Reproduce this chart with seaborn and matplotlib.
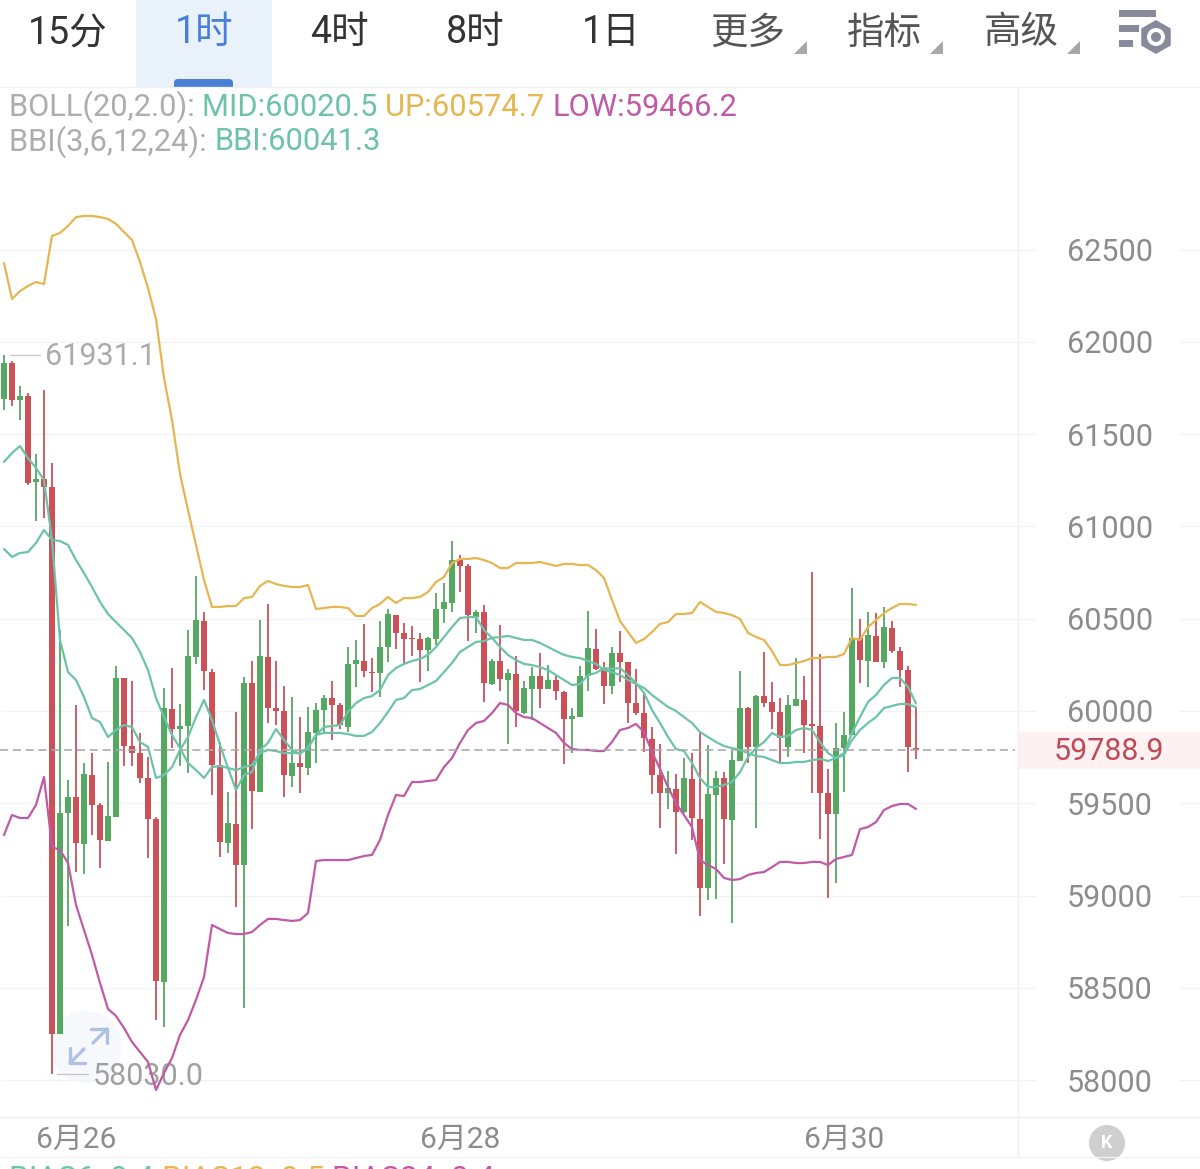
import numpy as np
import pandas as pd
import seaborn as sns
import matplotlib
matplotlib.use("Agg")
import matplotlib.pyplot as plt
from matplotlib.patches import Rectangle, Circle, Polygon, RegularPolygon, FancyBboxPatch

# ---- data (prices) ----
opens = [61691,61886,61686,61707,61241,61257,61214,58249,59447,59534,59279,59653,59491,59295,59425,60179,59810,59772,59637,59415,
58531,60011,59902,59919,60293,60488,60211,59707,59285,59388,59165,60152,59561,60293,60016,60000,59648,59718,59691,59881,
60005,60070,60033,59913,60255,60271,60211,60206,60347,60520,60423,60396,60390,60331,60390,60553,60585,60818,60786,60509,
60537,60146,60271,60168,60201,59989,60119,60190,60119,60168,60103,59957,59967,60190,60336,60233,60136,60314,60266,60043,
59989,59848,59653,59556,59577,59453,59631,59415,59041,59545,59637,59409,59729,60016,59805,60081,60049,59995,59805,60027,
60060,59930,59919,59556,59442,59799,59870,60396,60271,60407,60266,60450,60325,60222,59799]
closes = [61886,61686,61707,61236,61257,61214,58249,59447,59534,59285,59659,59491,59301,59431,60179,59810,59772,59637,59415,58537,
60016,59902,59919,60298,60493,60217,59707,59290,59393,59165,60152,59566,60298,60016,60000,59653,59718,59696,59886,60005,
60070,60033,59924,60255,60276,60217,60206,60347,60526,60423,60390,60390,60331,60396,60553,60591,60818,60786,60520,60537,
60152,60271,60173,60206,60000,60125,60190,60119,60168,60108,59957,59973,60190,60341,60228,60136,60314,60266,60043,59989,
59854,59653,59556,59583,59453,59637,59420,59041,59550,59637,59415,59734,60016,59805,60081,60043,59995,59854,60033,60065,
59924,59919,59556,59442,59799,59870,60396,60276,60412,60266,60455,60325,60222,59805,59789]
highs = [61931,61897,61762,61724,61393,61740,61344,60439,59626,60033,59718,59772,59501,59724,60244,60179,60163,59881,59751,59425,
60125,60233,60038,60439,60732,60537,60228,59832,59561,59995,60184,60271,60493,60580,60271,60136,60076,59967,60022,60043,
60087,60163,60043,60347,60385,60472,60287,60488,60553,60520,60477,60461,60423,60401,60640,60694,60921,60846,60797,60547,
60575,60282,60466,60228,60298,60163,60238,60314,60249,60190,60108,60016,60244,60542,60444,60266,60347,60434,60266,60228,
60103,59913,59821,59675,59659,59745,59772,59881,59816,59675,59669,59783,60217,60022,60087,60320,60157,60070,60087,60287,
60190,60753,60309,59686,59935,59995,60667,60499,60537,60531,60564,60488,60347,60244,60016]
lows = [61631,61653,61577,61225,61030,61046,58030,58249,58835,59127,59117,59328,59149,59295,59425,59702,59702,59610,59203,58325,
58287,59799,59702,59664,60255,60114,59545,59209,59230,58938,58390,59360,59561,59935,59924,59534,59588,59556,59653,59718,
59881,59843,59902,59886,60130,60184,60103,60076,60266,60336,60260,60298,60157,60217,60358,60477,60537,60645,60379,60423,
60049,60141,60108,59821,59913,59984,59951,60016,60119,60060,59713,59772,59967,60108,60222,60038,60092,60157,59935,59978,
59778,59550,59366,59469,59225,59447,59301,58889,58976,58981,59171,58851,59729,59718,59366,60022,59902,59718,59751,60027,
59772,59556,59306,58986,59068,59561,59870,60152,60130,60266,60233,60314,60130,59669,59740]
boll_up = [62428,62233,62276,62304,62325,62314,62575,62591,62629,62677,62683,62683,62677,62667,62640,62596,62553,62434,62293,62125,
61805,61577,61285,61089,60900,60710,60564,60564,60569,60569,60612,60618,60678,60705,60688,60678,60672,60672,60683,60553,
60558,60564,60564,60558,60515,60515,60558,60580,60618,60585,60612,60612,60618,60645,60699,60726,60802,60824,60824,60829,
60818,60802,60775,60775,60802,60802,60802,60808,60797,60786,60797,60797,60791,60791,60764,60721,60602,60488,60428,60369,
60390,60428,60472,60482,60526,60526,60531,60591,60564,60537,60531,60520,60499,60423,60401,60385,60325,60249,60249,60260,
60271,60287,60287,60293,60293,60309,60396,60385,60455,60493,60531,60558,60580,60580,60575]
boll_low = [59328,59436,59420,59420,59491,59642,59263,59247,59176,58949,58813,58678,58526,58385,58347,58282,58206,58152,58098,57946,
58038,58119,58244,58325,58434,58558,58840,58818,58797,58791,58791,58802,58840,58873,58873,58867,58862,58867,58905,59187,
59192,59192,59192,59192,59203,59214,59220,59301,59436,59545,59539,59615,59615,59621,59626,59696,59745,59827,59897,59935,
59946,59989,60043,60033,59989,59967,59962,59935,59908,59881,59827,59794,59789,59789,59783,59783,59832,59897,59908,59930,
59886,59778,59686,59588,59501,59436,59371,59192,59165,59144,59095,59084,59089,59111,59122,59127,59154,59182,59182,59176,
59176,59182,59182,59165,59198,59209,59220,59360,59371,59398,59463,59485,59496,59496,59469]
boll_mid = [60878,60835,60856,60862,60911,60981,60927,60921,60900,60818,60748,60672,60591,60526,60482,60439,60396,60320,60222,60070,
59967,59870,59799,59718,59680,59637,59696,59702,59691,59680,59696,59707,59772,59789,59783,59772,59772,59772,59799,59870,
59881,59881,59881,59875,59865,59865,59886,59935,59995,60060,60070,60114,60119,60141,60163,60211,60260,60320,60347,60374,
60379,60396,60401,60407,60396,60385,60385,60369,60347,60325,60304,60293,60287,60271,60255,60222,60211,60195,60168,60146,
60125,60087,60054,60022,60000,59967,59935,59886,59859,59832,59810,59799,59789,59772,59756,59751,59734,59718,59718,59724,
59724,59734,59740,59729,59745,59761,59843,59897,59935,59967,60016,60027,60038,60038,60020]
bbi = [61350,61398,61436,61371,61317,61252,60927,60385,60211,60168,60076,59962,59940,59859,59897,59924,59913,59832,59805,59637,
59653,59696,59789,59859,59967,60060,59951,59816,59691,59572,59653,59669,59789,59827,59902,59843,59789,59767,59805,59870,
59913,59919,59924,59995,60043,60070,60081,60114,60195,60233,60255,60271,60282,60304,60347,60401,60455,60504,60509,60509,
60439,60396,60347,60304,60276,60255,60249,60238,60222,60195,60168,60141,60146,60195,60206,60233,60228,60233,60195,60152,
60098,60005,59935,59859,59794,59783,59718,59637,59588,59588,59599,59615,59669,59751,59799,59832,59881,59859,59865,59897,
59908,59897,59832,59772,59745,59772,59881,59967,60049,60087,60141,60179,60179,60130,60041]
y_ticks = [58000,58500,59000,59500,60000,60500,61000,61500,62000,62500]
x_tick_idx = [9,57,105]
x_tick_labels = ["6月26","6月28","6月30"]
last_price = 59788.9
tab_labels = ["15分","1时","4时","8时","1日","更多","指标","高级"]

GREEN, RED = "#55a860", "#cc5058"
TEAL, GOLD, PINK = "#6cc3aa", "#e6b650", "#c15aa6"
GREY = "#8c8c8c"
W, H = 1200, 1169

sns.set_theme(style="white")
plt.rcParams["font.family"] = ["Roboto", "Noto Sans CJK SC", "DejaVu Sans"]

fig = plt.figure(figsize=(W/100, H/100), dpi=100, facecolor="white")

# pixel-space layer for the app chrome
ui = fig.add_axes([0, 0, 1, 1], zorder=0)
ui.set_xlim(0, W); ui.set_ylim(H, 0); ui.axis("off")

ui.add_patch(Rectangle((136, 0), 136, 87, color="#e9f1fb", lw=0))
ui.add_patch(FancyBboxPatch((178, 83), 51, 8, boxstyle="round,pad=4", color="#4a7fd6", lw=0, clip_on=True))
ui.add_patch(Rectangle((170, 87), 70, 10, color="white", lw=0))
tab_x = [68, 204, 339, 475, 611, 748, 884, 1021]
tab_col = ["#333333", "#4a7fd6", "#333333", "#333333", "#333333", "#555555", "#555555", "#555555"]
for lab, x, c in zip(tab_labels, tab_x, tab_col):
    ui.text(x, 33, lab, ha="center", va="center", fontsize=27, color=c)
for x in (807, 943, 1080):
    ui.add_patch(Polygon([(x-13, 54), (x, 54), (x, 41)], color="#a8a8a8", lw=0))
# settings icon
for (x0, w, y0, h) in [(1119, 37, 10, 7), (1119, 20, 25, 7), (1119, 14, 40, 7)]:
    ui.add_patch(Rectangle((x0, y0), w, h, color="#868a9b", lw=0))
ui.add_patch(RegularPolygon((1156, 37), 6, radius=17, color="#868a9b", lw=0))
ui.add_patch(Circle((1156, 37), 9, color="white", lw=0))
ui.add_patch(Circle((1156, 37), 5, color="#868a9b", lw=0))

# separators
for y, c in [(87, "#f0f0f0"), (1117, "#eeeeee"), (1157, "#f2f2f2")]:
    ui.plot([0, W], [y, y], color=c, lw=1)
ui.plot([1018, 1018], [87, 1157], color="#f0f0f0", lw=1)
ui.add_patch(Rectangle((1018, 732), 182, 37, color="#fdf1f1", lw=0))
ui.text(1109, 751, f"{last_price:.1f}", ha="center", va="center", fontsize=22, color="#c04a58")

# indicator legend rows
def row(y, parts, x=9, size=22.2):
    fig.canvas.draw()
    r = fig.canvas.get_renderer()
    for s, c in parts:
        t = ui.text(x, y, s, ha="left", va="center", fontsize=size, color=c)
        x += t.get_window_extent(r).width
row(107, [("BOLL(20,2.0): ", "#adadad"), ("MID:60020.5 ", TEAL), ("UP:60574.7 ", GOLD), ("LOW:59466.2", PINK)])
row(142, [("BBI(3,6,12,24): ", "#adadad"), ("BBI:60041.3", TEAL)])
row(1179, [("BIAS6: 0.4 ", TEAL), ("BIAS12: 0.5 ", GOLD), ("BIAS24: 0.4", PINK)], size=22.8)

# expand button and K button
ui.add_patch(Circle((86, 1047), 36, color="#f6f8fc", lw=0))
ac = "#b0c2e4"
for xs, ys in [([93, 107], [1043, 1029]), ([91, 107, 107], [1029, 1029, 1043]),
               ([84, 70], [1049, 1063]), ([70, 70, 85], [1048, 1063, 1063])]:
    ui.plot(xs, ys, color=ac, lw=2.4, solid_capstyle="round")
ui.add_patch(Circle((1107, 1143), 18, color="#cfcfcf", lw=0))
ui.text(1107, 1143, "K", ha="center", va="center", fontsize=13, color="white", fontweight="bold")

# price axes: candle index on x, price on y
ax_left, ax_right, ax_top, ax_bot = 0, 1018, 87, 1117
ax = fig.add_axes([ax_left/W, 1-ax_bot/H, (ax_right-ax_left)/W, (ax_bot-ax_top)/H], zorder=1)
ax.patch.set_alpha(0)
sns.despine(ax=ax, left=True, bottom=True, right=True, top=True)

df = pd.DataFrame({"i": np.arange(len(opens)), "o": opens, "c": closes, "h": highs, "l": lows,
                   "up": boll_up, "mid": boll_mid, "low": boll_low, "bbi": bbi})
df["rising"] = df["c"] >= df["o"]
df["color"] = np.where(df["rising"], GREEN, RED)

ax.hlines(y_ticks, 0, 1035/1018, transform=ax.get_yaxis_transform(), color="#f3f3f3", lw=1, clip_on=False, zorder=0)
ax.hlines(y_ticks, 1180/1018, 1200/1018, transform=ax.get_yaxis_transform(), color="#f3f3f3", lw=1, clip_on=False, zorder=0)

ax.vlines(df["i"], df["l"], df["h"], colors=df["color"], lw=1.3, zorder=2)
ax.bar(df["i"], (df["c"]-df["o"]).abs().clip(lower=6), bottom=df[["o", "c"]].min(axis=1),
       width=0.68, color=df["color"], lw=0, zorder=2)
for col, colr in [("up", GOLD), ("low", PINK), ("mid", TEAL), ("bbi", TEAL)]:
    sns.lineplot(data=df, x="i", y=col, color=colr, lw=1.6, ax=ax, errorbar=None, zorder=3)

ax.axhline(last_price, xmax=1015/1018, color="#a9a9a9", lw=1.3, dashes=(4.5, 2.6), zorder=4, alpha=0.9)

# high / low callouts
hi_i, lo_i = int(np.argmax(highs)), int(np.argmin(lows))
ax.plot([hi_i+0.75, hi_i+4.5], [highs[hi_i]]*2, color="#c8c8c8", lw=1, zorder=1)
ax.annotate(f"{highs[hi_i]+0.1:.1f}", xy=(hi_i+5.1, highs[hi_i]), xytext=(0, -1.5), textcoords="offset points",
            va="center", ha="left", fontsize=22, color="#ababab", zorder=1)
ax.plot([lo_i+0.6, lo_i+4.5], [lows[lo_i]]*2, color="#c8c8c8", lw=1, zorder=1)
ax.annotate(f"{lows[lo_i]:.1f}", xy=(lo_i+5.1, lows[lo_i]), xytext=(0, -1.5), textcoords="offset points",
            va="center", ha="left", fontsize=22, color="#a0a0a0", zorder=1)

ax.set_xlim(-0.5, (ax_right-4)/8)
ax.set_ylim(60000-(ax_bot-711)*5.42, 60000+(711-ax_top)*5.42)
ax.set_xlabel(""); ax.set_ylabel("")
ax.set_xticks(x_tick_idx, x_tick_labels)
ax.set_yticks(y_ticks, [str(v) for v in y_ticks])
ax.yaxis.tick_right()
ax.tick_params(axis="y", length=0, pad=35, labelsize=22, labelcolor=GREY)
ax.tick_params(axis="x", length=0, pad=6.5, labelsize=21.5, labelcolor=GREY)

fig.savefig("out.png", dpi=100)
